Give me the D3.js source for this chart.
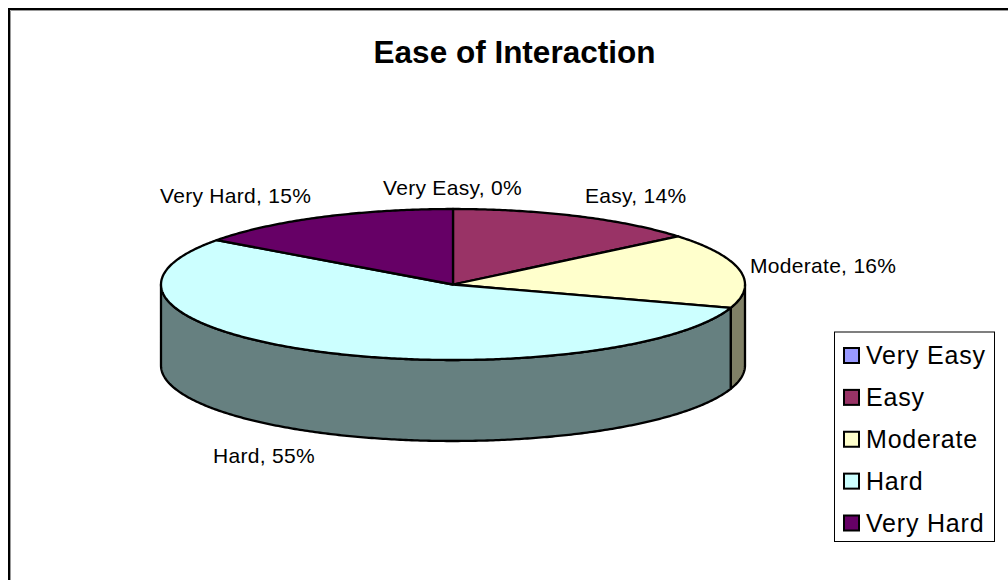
<!DOCTYPE html>
<html><head><meta charset="utf-8">
<style>html,body{margin:0;padding:0;background:#fff}svg{display:block}text{font-family:"Liberation Sans",Arial,sans-serif;fill:#000}</style>
<script src="https://cdn.jsdelivr.net/npm/d3@7/dist/d3.min.js"></script>
</head><body><svg id="c" width="1008" height="580"></svg>
<script>
const categories = ["Very Easy","Easy","Moderate","Hard","Very Hard"];
const values = [0,14,16,55,15];
const topColors = ["#9999FF","#993366","#FFFFCC","#CCFFFF","#660066"];
const sideColors = ["#4D4D80","#4D1A33","#808066","#668080","#330033"];
const labelAnchors = [[383,195],[585,203],[750,273],[213,463],[160,203]];

const svg = d3.select("#c");
svg.append("path").attr("d","M10.5,580V10.5H1008").attr("fill","none").attr("stroke","#999").attr("stroke-width",1);
svg.append("path").attr("d","M9,580V9H1008").attr("fill","none").attr("stroke","#000").attr("stroke-width",2);

svg.append("text").attr("x",514.5).attr("y",63).attr("text-anchor","middle")
  .style("font-size","31.5px").style("font-weight","bold").text("Ease of Interaction");

const cx=453, cy=284.5, rx=292, ry=75.5, depth=81;
const px=d3.scaleLinear().domain([-1,1]).range([cx-rx,cx+rx]);
const py=d3.scaleLinear().domain([-1,1]).range([cy-ry,cy+ry]);
const pie=d3.pie().sort(null).value(d=>d);
const arcs=pie(values);
const pt=a=>[px(Math.sin(a)),py(-Math.cos(a))];
const ellipsePath=(a0,a1,dy)=>{
  const n=Math.max(2,Math.ceil(Math.abs(a1-a0)/0.01));
  return d3.range(n+1).map(i=>{const a=a0+(a1-a0)*i/n;const p=pt(a);return [p[0],p[1]+dy];});
};
const line=d3.line();

const sides=svg.append("g");
arcs.forEach((d,i)=>{
  const a0=Math.max(d.startAngle,Math.PI/2), a1=Math.min(d.endAngle,3*Math.PI/2);
  if(a1<=a0) return;
  const pts=ellipsePath(a0,a1,0).concat(ellipsePath(a1,a0,depth));
  sides.append("path").attr("d",line(pts)+"Z").attr("fill",sideColors[i])
    .attr("stroke","#000").attr("stroke-width",2.3).attr("stroke-linejoin","round");
});

const tops=svg.append("g");
arcs.forEach((d,i)=>{
  if(d.endAngle-d.startAngle<=0) return;
  const pts=[[cx,cy]].concat(ellipsePath(d.startAngle,d.endAngle,0));
  tops.append("path").attr("d",line(pts)+"Z").attr("fill",topColors[i])
    .attr("stroke","#000").attr("stroke-width",2.3).attr("stroke-linejoin","round");
});

categories.forEach((c,i)=>{
  svg.append("text").attr("x",labelAnchors[i][0]).attr("y",labelAnchors[i][1])
    .style("font-size","21px").style("letter-spacing","0.3px").text(c+", "+values[i]+"%");
});

const legend=svg.append("g");
legend.append("rect").attr("x",834.5).attr("y",332).attr("width",160).attr("height",209.5)
  .attr("fill","#fff").attr("stroke","#000").attr("stroke-width",1);
const ly=d3.scalePoint().domain(categories).range([355.5,523]);
categories.forEach((c,i)=>{
  const y=ly(c);
  legend.append("rect").attr("x",844).attr("y",y-7.5).attr("width",15).attr("height",15)
    .attr("fill",topColors[i]).attr("stroke","#000").attr("stroke-width",2);
  legend.append("text").attr("x",866).attr("y",y+8.5).style("font-size","25px").style("letter-spacing","0.8px").text(c);
});
</script></body></html>
